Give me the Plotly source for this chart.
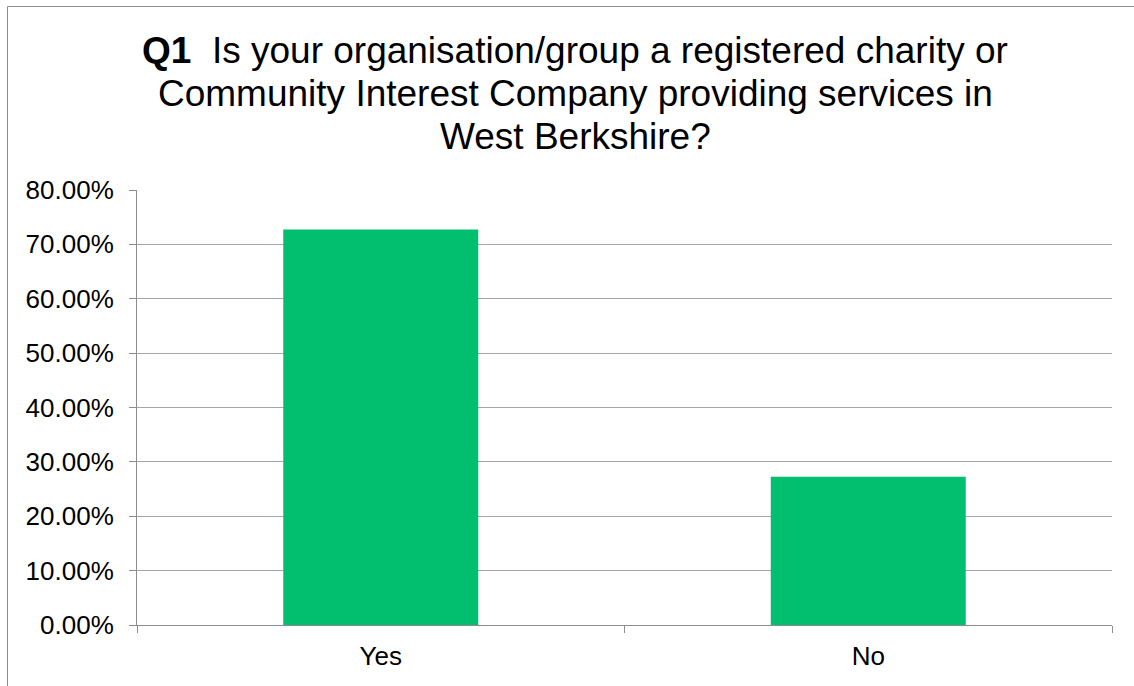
import plotly.graph_objects as go

categories = ["Yes", "No"]
shares = [0.7273, 0.2727]
tick_values = [0, 0.1, 0.2, 0.3, 0.4, 0.5, 0.6, 0.7, 0.8]
title_lines = [
    "<b>Q1</b>  Is your organisation/group a registered charity or",
    "Community Interest Company providing services in",
    "West Berkshire?",
]

W, H = 1134, 686
L, R, T, B = 137, 22, 190, 61
pw, ph = W - L - R, H - T - B


def px_x(x):
    return (x - L) / pw


def px_y(y):
    return (H - B - y) / ph


fig = go.Figure(
    go.Bar(
        x=categories,
        y=shares,
        marker=dict(color="#02BF6F", line=dict(width=0)),
        width=0.4,
        hoverinfo="x+y",
    )
)

# title drawn line by line to get the tighter line spacing
title_size = 37
baselines = [62.7, 106.0, 149.3]
title_annotations = [
    dict(
        text=line,
        xref="paper",
        yref="paper",
        x=px_x(575),
        y=px_y(base - 0.34 * title_size),
        xanchor="center",
        yanchor="middle",
        showarrow=False,
        font=dict(size=title_size, color="#000000"),
        align="center",
    )
    for line, base in zip(title_lines, baselines)
]

fig.update_layout(
    width=W,
    height=H,
    margin=dict(l=L, r=R, t=T, b=B),
    paper_bgcolor="white",
    plot_bgcolor="white",
    showlegend=False,
    font=dict(family="Liberation Sans, Arial, sans-serif", color="#000000"),
    annotations=title_annotations,
    shapes=[
        # chart frame
        dict(type="line", xref="paper", yref="paper",
             x0=px_x(7.5), x1=px_x(W + 5), y0=px_y(6.5), y1=px_y(6.5),
             line=dict(color="#8c8c8c", width=1)),
        dict(type="line", xref="paper", yref="paper",
             x0=px_x(7.5), x1=px_x(7.5), y0=px_y(6.5), y1=px_y(H + 5),
             line=dict(color="#8c8c8c", width=1)),
    ],
)

fig.update_yaxes(
    range=[0, 0.8],
    tickvals=tick_values,
    tickformat=".2%",
    showgrid=True,
    gridcolor="#a6a6a6",
    gridwidth=1,
    showline=True,
    linecolor="#8c8c8c",
    linewidth=1,
    ticks="outside",
    ticklen=7,
    tickcolor="#8c8c8c",
    tickfont=dict(size=26, color="#000000"),
    ticklabelstandoff=10,
    zeroline=False,
    fixedrange=True,
)

fig.update_xaxes(
    showline=True,
    linecolor="#8c8c8c",
    linewidth=1,
    ticks="outside",
    tickson="boundaries",
    ticklen=7,
    tickcolor="#8c8c8c",
    tickfont=dict(size=26, color="#000000"),
    ticklabelstandoff=8,
    showgrid=False,
    fixedrange=True,
)

fig.write_html("out.html")
